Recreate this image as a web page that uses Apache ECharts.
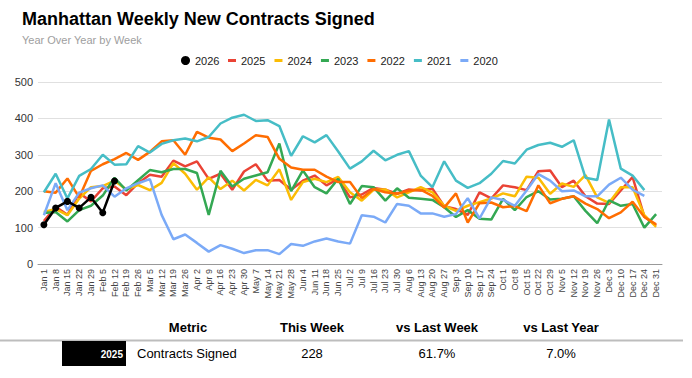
<!DOCTYPE html>
<html>
<head>
<meta charset="utf-8">
<script src="https://cdn.jsdelivr.net/npm/echarts@6/dist/echarts.min.js"></script>
<style>
html,body{margin:0;padding:0;background:#fff;}
#chart{width:692px;height:378px;}
</style>
</head>
<body>
<div id="chart"></div>
<script>
var weeks = ["Jan 1","Jan 8","Jan 15","Jan 22","Jan 29","Feb 5","Feb 12","Feb 19","Feb 26","Mar 5","Mar 12","Mar 19","Mar 26","Apr 2","Apr 9","Apr 16","Apr 23","Apr 30","May 7","May 14","May 21","May 28","Jun 4","Jun 11","Jun 18","Jun 25","Jul 2","Jul 9","Jul 16","Jul 23","Jul 30","Aug 6","Aug 13","Aug 20","Aug 27","Sep 3","Sep 10","Sep 17","Sep 24","Oct 1","Oct 8","Oct 15","Oct 22","Oct 29","Nov 5","Nov 12","Nov 19","Nov 26","Dec 3","Dec 10","Dec 17","Dec 24","Dec 31"];

var y2026 = [108,154,172,154,183,141,228];
var y2025 = [118,157,135,195,172,208,213,189,222,245,240,284,268,282,234,248,204,254,274,229,231,204,229,243,216,234,183,191,209,204,193,205,202,207,159,151,135,197,180,216,211,203,255,257,211,229,186,166,165,202,239,130,106];
var y2024 = [143,151,134,180,211,214,229,205,217,203,223,277,248,204,238,206,229,202,231,216,260,176,225,234,225,239,197,174,204,205,183,197,211,197,160,146,160,170,180,194,186,240,237,193,221,212,244,183,168,211,211,134,102];
var y2023 = [140,143,117,148,160,188,237,202,230,258,252,261,261,250,135,256,213,234,243,252,331,200,257,211,194,234,165,214,211,174,208,182,179,176,156,129,148,124,122,179,148,184,200,177,179,186,146,112,175,160,165,100,137];
var y2022 = [200,196,235,183,256,274,288,305,286,308,337,340,300,363,347,342,310,331,354,349,289,265,259,259,240,225,225,181,206,197,193,201,204,187,155,194,114,167,169,156,159,145,216,167,179,186,166,151,126,142,171,129,109];
var y2021 = [197,248,180,242,261,300,273,274,324,306,330,340,345,337,349,386,402,410,393,395,379,297,351,334,354,309,262,282,311,285,300,310,243,211,282,229,209,222,248,283,276,314,327,333,322,340,237,231,397,262,243,203,null];
var y2020 = [134,222,148,196,208,216,185,208,222,233,135,68,81,58,34,52,42,30,38,38,27,55,50,62,70,62,56,134,130,114,165,160,139,139,130,137,181,125,183,176,160,202,247,229,200,202,186,186,218,237,204,187,null];

var yTicks = [0,100,200,300,400,500];

var tableHeaders = ["Metric","This Week","vs Last Week","vs Last Year"];
var tableRowTag = "2025";
var tableRow = ["Contracts Signed","228","61.7%","7.0%"];

var FONT = "Liberation Sans, Arial, Helvetica, sans-serif";
var years = ["2026","2025","2024","2023","2022","2021","2020"];
var colors = ["#000000","#EA4335","#FBBC04","#34A853","#FF6D01","#46BDC6","#7BAAF7"];
var dataSets = [y2026,y2025,y2024,y2023,y2022,y2021,y2020];

var series = years.map(function(y,i){
  var s = {
    name: y, type: 'line', data: dataSets[i],
    lineStyle: {width: 2.5, color: colors[i]},
    itemStyle: {color: colors[i]},
    showSymbol: i === 0, symbol: 'circle', symbolSize: 7,
    z: i === 0 ? 10 : 2,
    animation: false
  };
  return s;
});

var colX = [188, 312, 437, 561];
var graphics = [];
tableHeaders.forEach(function(h,i){
  graphics.push({type:'text', left: colX[i], top: 327, style:{text:h, font:'bold 13px ' + FONT, fill:'#000', textAlign:'center', textVerticalAlign:'middle'}});
});
graphics.push({type:'rect', shape:{x:0,y:339.5,width:683,height:2}, style:{fill:'#bdbdbd'}});
graphics.push({type:'rect', shape:{x:62,y:341,width:64,height:25}, style:{fill:'#000'}});
graphics.push({type:'text', x:123, y:354, style:{text:tableRowTag, font:'bold 10px ' + FONT, fill:'#fff', textAlign:'right', textVerticalAlign:'middle'}});
graphics.push({type:'text', x:137, y:353, style:{text:tableRow[0], font:'13px ' + FONT, fill:'#000', textAlign:'left', textVerticalAlign:'middle'}});
for (var k=1;k<4;k++){
  graphics.push({type:'text', x:colX[k], y:353, style:{text:tableRow[k], font:'13px ' + FONT, fill:'#000', textAlign:'center', textVerticalAlign:'middle'}});
}
// fix header positions using x/y instead of left/top
graphics.forEach(function(g){ if (g.left !== undefined){ g.x = g.left; g.y = g.top; delete g.left; delete g.top; } });

var chart = echarts.init(document.getElementById('chart'), null, {renderer:'svg'});
chart.setOption({
  animation: false,
  backgroundColor: '#fff',
  textStyle: {fontFamily: FONT},
  title: {
    text: 'Manhattan Weekly New Contracts Signed',
    subtext: 'Year Over Year by Week',
    left: 17, top: 5,
    itemGap: 6,
    textStyle: {fontSize: 18, fontWeight: 'bold', color: '#000', fontFamily: FONT},
    subtextStyle: {fontSize: 11, color: '#9e9e9e', fontFamily: FONT}
  },
  legend: [
    {data: ['2026'], left: 181, top: 55, padding: 0, icon: 'circle', itemWidth: 9, itemHeight: 9, itemGap: 9,
     textStyle: {fontSize: 11, color: '#222', fontFamily: FONT}},
    {data: ['2025','2024','2023','2022','2021','2020'], left: 228, top: 55, padding: 0, icon: 'rect', itemWidth: 8, itemHeight: 3, itemGap: 9,
     textStyle: {fontSize: 11, color: '#222', fontFamily: FONT}}
  ],
  grid: {left: 38, right: 30, top: 82, bottom: 114, containLabel: false},
  xAxis: {
    type: 'category', data: weeks, boundaryGap: true,
    axisLine: {lineStyle: {color: '#999', width: 1}},
    axisTick: {show: false},
    axisLabel: {rotate: 90, interval: 0, fontSize: 9, color: '#444', margin: 5, fontFamily: FONT}
  },
  yAxis: {
    type: 'value', min: yTicks[0], max: yTicks[yTicks.length-1], interval: 100,
    axisLine: {show: false}, axisTick: {show: false},
    splitLine: {lineStyle: {color: '#e0e0e0', width: 1}},
    axisLabel: {fontSize: 11, color: '#333', margin: 5, fontFamily: FONT}
  },
  series: series,
  graphic: graphics
});
</script>
</body>
</html>
